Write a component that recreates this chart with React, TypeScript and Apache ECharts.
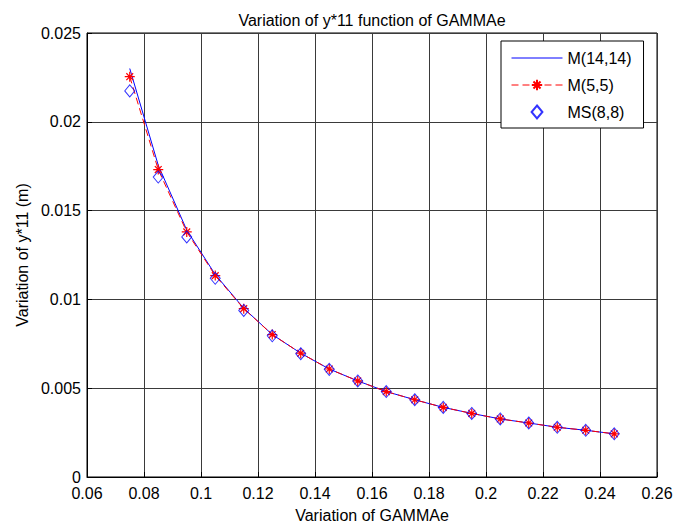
import React, { useEffect, useRef } from "react";
import * as echarts from "echarts";

const xValues = [0.075, 0.085, 0.095, 0.105, 0.115, 0.125, 0.135, 0.145, 0.155, 0.165, 0.175, 0.185, 0.195, 0.205, 0.215, 0.225, 0.235, 0.245];
const m14Values = [0.0230, 0.01755, 0.0139, 0.0114, 0.0095, 0.00802, 0.00697, 0.00608, 0.00541, 0.00481, 0.00435, 0.00392, 0.00358, 0.00327, 0.00304, 0.0028, 0.00263, 0.00243];
const m5Values = [0.02254, 0.01731, 0.0138, 0.01134, 0.00948, 0.00802, 0.00697, 0.00608, 0.00541, 0.00481, 0.00435, 0.00392, 0.00358, 0.00327, 0.00304, 0.0028, 0.00263, 0.00243];
const ms8Values = [0.02174, 0.01689, 0.01352, 0.01119, 0.00938, 0.00795, 0.00694, 0.00606, 0.00541, 0.00481, 0.00435, 0.00392, 0.00358, 0.00327, 0.00304, 0.0028, 0.00263, 0.00243];
const seriesNames = ["M(14,14)", "M(5,5)", "MS(8,8)"];
const titleText = "Variation of y*11 function of GAMMAe";
const xAxisTitle = "Variation of GAMMAe";
const yAxisTitle = "Variation of y*11 (m)";

const FONT = "'Liberation Sans', Arial, Helvetica, sans-serif";
const STAR = "path://M5,0 L5,10 M0,5 L10,5 M1.6,1.6 L8.4,8.4 M1.6,8.4 L8.4,1.6";
const DIAMOND = "path://M5,0 L10,6 L5,12 L0,6 Z";

export default function App() {
  const ref = useRef<HTMLDivElement>(null);
  useEffect(() => {
    if (!ref.current) return;
    const chart = echarts.init(ref.current, null, { renderer: "svg" });
    const pair = (ys: number[]) => xValues.map((x, i) => [x, ys[i]]);
    chart.setOption({
      animation: false,
      backgroundColor: "#ffffff",
      textStyle: { fontFamily: FONT },
      graphic: [
        {
          type: "text",
          x: 372,
          y: 20,
          style: {
            text: titleText,
            fontSize: 16,
            fontFamily: FONT,
            fill: "#000",
            align: "center",
            verticalAlign: "middle",
          },
        },
      ],
      grid: {
        left: 87,
        right: 35,
        top: 33,
        bottom: 48,
        show: true,
        borderColor: "#000",
        borderWidth: 1,
        backgroundColor: "#fff",
      },
      legend: {
        orient: "vertical",
        left: 501,
        top: 41,
        padding: [9, 12, 8, 10],
        itemGap: 11,
        itemWidth: 51,
        itemHeight: 13,
        backgroundColor: "#fff",
        borderColor: "#000",
        borderWidth: 1,
        borderRadius: 0,
        lineStyle: { width: 1 },
        textStyle: { fontSize: 16, fontFamily: FONT, color: "#000" },
        data: [
          { name: seriesNames[0], itemStyle: { color: "rgba(0,0,0,0)", borderWidth: 0, opacity: 0 } },
          { name: seriesNames[1] },
          { name: seriesNames[2], icon: DIAMOND },
        ],
      },
      xAxis: {
        type: "value",
        min: 0.06,
        max: 0.26,
        interval: 0.02,
        name: xAxisTitle,
        nameLocation: "middle",
        nameGap: 30,
        nameTextStyle: { fontSize: 16, fontFamily: FONT, color: "#000" },
        axisLine: { show: true, lineStyle: { color: "#000" } },
        axisTick: { show: true, inside: true, length: 5, lineStyle: { color: "#000" } },
        axisLabel: {
          fontSize: 16,
          lineHeight: 12,
          fontFamily: FONT,
          color: "#000",
          margin: 10,
          formatter: (v: number) => String(+v.toFixed(2)),
        },
        splitLine: { show: true, lineStyle: { color: "#3a3a3a", width: 1 } },
      },
      yAxis: {
        type: "value",
        min: 0,
        max: 0.025,
        interval: 0.005,
        name: yAxisTitle,
        nameLocation: "middle",
        nameGap: 56,
        nameRotate: 90,
        nameTextStyle: { fontSize: 16, fontFamily: FONT, color: "#000" },
        axisLine: { show: true, lineStyle: { color: "#000" } },
        axisTick: { show: true, inside: true, length: 5, lineStyle: { color: "#000" } },
        axisLabel: {
          fontSize: 16,
          lineHeight: 12,
          fontFamily: FONT,
          color: "#000",
          margin: 6,
          formatter: (v: number) => String(+v.toFixed(3)),
        },
        splitLine: { show: true, lineStyle: { color: "#3a3a3a", width: 1 } },
      },
      series: [
        {
          name: seriesNames[0],
          type: "line",
          data: pair(m14Values),
          symbol: "none",
          lineStyle: { color: "#0000ff", width: 1 },
          itemStyle: { color: "#0000ff" },
          z: 2,
        },
        {
          name: seriesNames[1],
          type: "line",
          data: pair(m5Values),
          symbol: STAR,
          symbolSize: 10,
          showSymbol: true,
          lineStyle: { color: "#ff0000", width: 1, type: [7, 4] },
          itemStyle: { color: "#ff0000", borderColor: "#ff0000", borderWidth: 1.2 },
          z: 3,
        },
        {
          name: seriesNames[2],
          type: "scatter",
          data: pair(ms8Values),
          symbol: "diamond",
          symbolSize: [10, 12],
          itemStyle: { color: "rgba(0,0,0,0)", borderColor: "#0000ff", borderWidth: 1 },
          z: 4,
        },
      ],
    });
    return () => chart.dispose();
  }, []);
  return (
    <div
      ref={ref}
      style={{ position: "fixed", left: 0, top: 0, width: 692, height: 528, background: "#fff" }}
    />
  );
}
